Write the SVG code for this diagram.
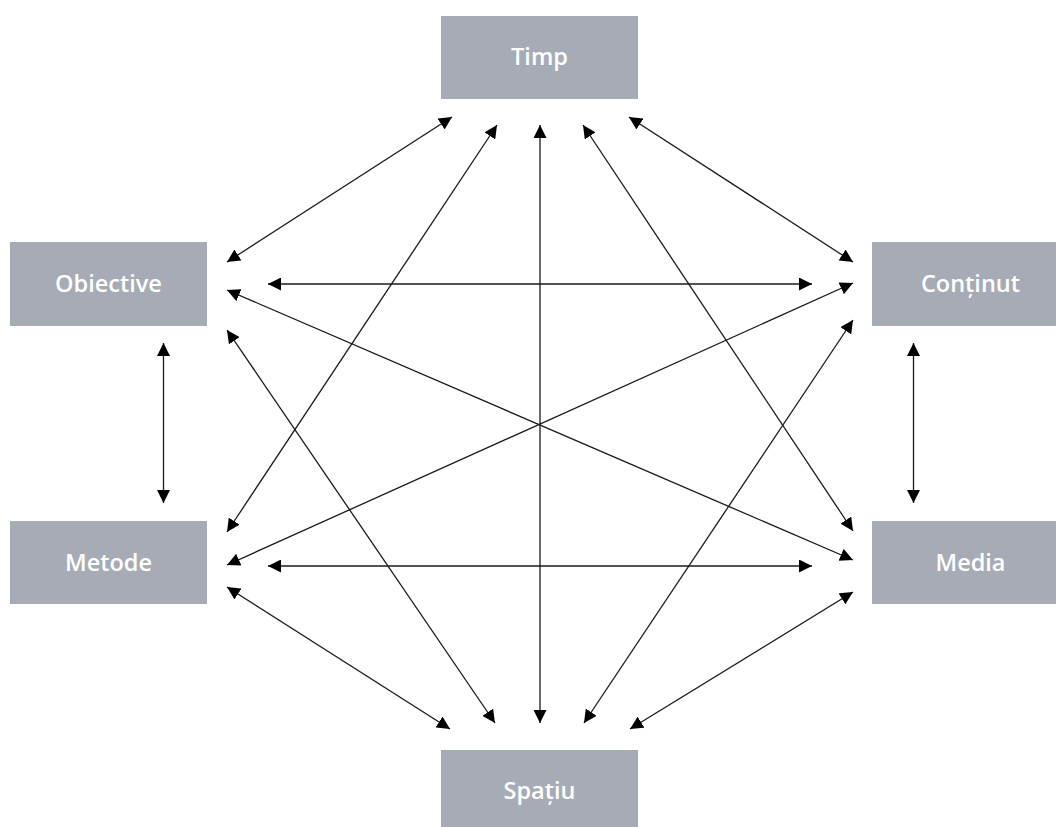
<svg xmlns="http://www.w3.org/2000/svg" width="1056" height="827" viewBox="0 0 1056 827">
<style>
.box{fill:#a6abb6}
.lbl{fill:#ffffff;font-family:"Open Sans","Noto Sans",sans-serif;font-weight:600;font-size:23.5px;text-anchor:middle}
.c line{stroke:#1a1a1a;stroke-width:1.3;fill:none;marker-start:url(#ah);marker-end:url(#ah)}
</style>
<defs>
<marker id="ah" markerUnits="userSpaceOnUse" markerWidth="13" markerHeight="13" viewBox="0 0 13 13" refX="13" refY="6.5" orient="auto-start-reverse">
<path d="M0,0 L13,6.5 L0,13 z" fill="#000"/>
</marker>
</defs>
<rect width="1056" height="827" fill="#ffffff"/>
<g id="timp"><rect class="box" x="441" y="16" width="197" height="83"/><text class="lbl" x="539.5" y="65">Timp</text></g>
<g id="obiective"><rect class="box" x="10" y="242" width="197" height="84"/><text class="lbl" x="108.5" y="292">Obiective</text></g>
<g id="continut"><rect class="box" x="872" y="242" width="197" height="84"/><text class="lbl" x="970.5" y="292">Conținut</text></g>
<g id="metode"><rect class="box" x="10" y="521" width="197" height="83"/><text class="lbl" x="108.5" y="571">Metode</text></g>
<g id="media"><rect class="box" x="872" y="521" width="197" height="83"/><text class="lbl" x="970.5" y="571">Media</text></g>
<g id="spatiu"><rect class="box" x="441" y="750" width="197" height="83"/><text class="lbl" x="539.5" y="799">Spațiu</text></g>
<g id="connectors" class="c">
<line x1="452" y1="117" x2="227" y2="262"/>
<line x1="629" y1="117" x2="853" y2="262"/>
<line x1="540" y1="125" x2="540" y2="723"/>
<line x1="497" y1="125" x2="227" y2="532"/>
<line x1="583" y1="125" x2="853" y2="531"/>
<line x1="227" y1="290" x2="853" y2="560"/>
<line x1="227" y1="330" x2="495" y2="723"/>
<line x1="853" y1="283" x2="227" y2="565"/>
<line x1="853" y1="320" x2="584" y2="723"/>
<line x1="227" y1="587" x2="450" y2="729"/>
<line x1="853" y1="592" x2="630" y2="729"/>
<line x1="268" y1="284" x2="812" y2="284"/>
<line x1="268" y1="566" x2="812" y2="566"/>
<line x1="163.5" y1="343" x2="163.5" y2="503"/>
<line x1="913.5" y1="343" x2="913.5" y2="503"/>
</g>
</svg>
